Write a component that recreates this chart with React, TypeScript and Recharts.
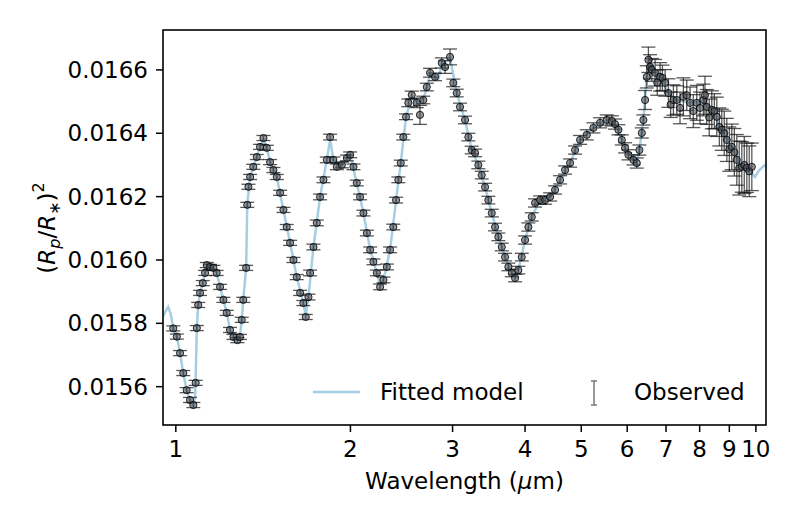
import React from 'react';
import { ComposedChart, Line, Scatter, ErrorBar, XAxis, YAxis } from 'recharts';

// observed transmission spectrum: wavelength (um), (Rp/R*)^2, 1-sigma error
const obsWavelength = [
  0.990, 1.004, 1.017, 1.030, 1.044, 1.058, 1.072, 1.082, 1.087, 1.093,
  1.101, 1.113, 1.123, 1.131, 1.146, 1.161, 1.176, 1.192, 1.208, 1.224,
  1.240, 1.257, 1.277, 1.290, 1.299, 1.307, 1.322, 1.328, 1.334, 1.343,
  1.360, 1.379, 1.397, 1.416, 1.435, 1.454, 1.473, 1.493, 1.513, 1.533,
  1.553, 1.574, 1.595, 1.616, 1.638, 1.659, 1.675, 1.693, 1.704, 1.727,
  1.750, 1.773, 1.797, 1.821, 1.845, 1.869, 1.895, 1.933, 1.972, 1.998,
  2.024, 2.051, 2.078, 2.106, 2.135, 2.163, 2.191, 2.221, 2.250, 2.280,
  2.311, 2.341, 2.371, 2.397, 2.419, 2.442, 2.467, 2.494, 2.517, 2.551,
  2.602, 2.636, 2.671, 2.708, 2.743, 2.798, 2.874, 2.912, 2.970, 3.009,
  3.050, 3.090, 3.152, 3.194, 3.237, 3.280, 3.323, 3.368, 3.413, 3.458,
  3.505, 3.551, 3.598, 3.647, 3.695, 3.744, 3.795, 3.845, 3.895, 3.948,
  4.000, 4.053, 4.108, 4.162, 4.246, 4.331, 4.418, 4.506, 4.597, 4.689,
  4.783, 4.879, 4.977, 5.111, 5.247, 5.388, 5.533, 5.644, 5.718, 5.794,
  5.873, 5.950, 6.029, 6.150, 6.233, 6.298, 6.358, 6.398, 6.442, 6.486,
  6.527, 6.570, 6.616, 6.703, 6.760, 6.837, 6.900, 6.975, 7.067, 7.130,
  7.208, 7.306, 7.400, 7.499, 7.600, 7.701, 7.800, 7.909, 8.010, 8.119,
  8.170, 8.229, 8.310, 8.394, 8.480, 8.563, 8.650, 8.734, 8.820, 8.910,
  9.000, 9.088, 9.180, 9.271, 9.360, 9.457, 9.550, 9.647, 9.740, 9.840,
];

const obsDepth = [
  0.015784, 0.015758, 0.015706, 0.015643, 0.015589, 0.015558, 0.015542, 0.015612, 0.015785, 0.015858,
  0.015896, 0.015927, 0.015959, 0.015984, 0.015978, 0.015975, 0.015959, 0.015915, 0.015874, 0.015833,
  0.015779, 0.015757, 0.015747, 0.015757, 0.015811, 0.015874, 0.015975, 0.016174, 0.016231, 0.016262,
  0.016294, 0.016325, 0.016357, 0.016385, 0.016354, 0.016309, 0.016284, 0.016262, 0.016212, 0.016158,
  0.016104, 0.016054, 0.016000, 0.015946, 0.015896, 0.015864, 0.015820, 0.015883, 0.015959, 0.016041,
  0.016117, 0.016199, 0.016253, 0.016316, 0.016388, 0.016316, 0.016294, 0.016300, 0.016322, 0.016332,
  0.016294, 0.016243, 0.016199, 0.016148, 0.016085, 0.016032, 0.015994, 0.015959, 0.015915, 0.015937,
  0.015978, 0.016032, 0.016104, 0.016189, 0.016253, 0.016306, 0.016388, 0.016452, 0.016496, 0.016521,
  0.016496, 0.016458, 0.016505, 0.016546, 0.016591, 0.016578, 0.016622, 0.016609, 0.016641, 0.016559,
  0.016527, 0.016483, 0.016442, 0.016388, 0.016347, 0.016338, 0.016300, 0.016268, 0.016230, 0.016189,
  0.016148, 0.016104, 0.016073, 0.016041, 0.016009, 0.015978, 0.015959, 0.015943, 0.015968, 0.016009,
  0.016063, 0.016104, 0.016136, 0.016180, 0.016189, 0.016189, 0.016199, 0.016221, 0.016253, 0.016284,
  0.016306, 0.016347, 0.016379, 0.016395, 0.016417, 0.016433, 0.016442, 0.016439, 0.016429, 0.016411,
  0.016379, 0.016354, 0.016332, 0.016316, 0.016306, 0.016347, 0.016401, 0.016442, 0.016505, 0.016578,
  0.016632, 0.016610, 0.016600, 0.016591, 0.016560, 0.016578, 0.016575, 0.016559, 0.016527, 0.016490,
  0.016505, 0.016505, 0.016480, 0.016515, 0.016520, 0.016496, 0.016470, 0.016496, 0.016480, 0.016505,
  0.016520, 0.016483, 0.016450, 0.016474, 0.016470, 0.016452, 0.016420, 0.016411, 0.016400, 0.016379,
  0.016350, 0.016357, 0.016340, 0.016316, 0.016290, 0.016294, 0.016300, 0.016291, 0.016280, 0.016294,
];

const obsError = [
  0.000008, 0.000008, 0.000008, 0.000008, 0.000008, 0.000008, 0.000008, 0.000008, 0.000008, 0.000008,
  0.000008, 0.000008, 0.000008, 0.000008, 0.000008, 0.000008, 0.000008, 0.000008, 0.000008, 0.000008,
  0.000008, 0.000008, 0.000008, 0.000008, 0.000008, 0.000008, 0.000008, 0.000008, 0.000008, 0.000008,
  0.000008, 0.000008, 0.000008, 0.000008, 0.000008, 0.000008, 0.000008, 0.000008, 0.000008, 0.000008,
  0.000008, 0.000008, 0.000008, 0.000008, 0.000008, 0.000008, 0.000008, 0.000009, 0.000009, 0.000009,
  0.000009, 0.000009, 0.000009, 0.000009, 0.000009, 0.000009, 0.000009, 0.000009, 0.000009, 0.000009,
  0.000009, 0.000009, 0.000009, 0.000009, 0.000009, 0.000009, 0.000009, 0.000009, 0.000009, 0.000009,
  0.000009, 0.000009, 0.000009, 0.000009, 0.000009, 0.000009, 0.000009, 0.000009, 0.000012, 0.000012,
  0.000015, 0.000030, 0.000012, 0.000012, 0.000014, 0.000012, 0.000016, 0.000020, 0.000025, 0.000012,
  0.000012, 0.000012, 0.000012, 0.000012, 0.000012, 0.000012, 0.000012, 0.000012, 0.000012, 0.000012,
  0.000012, 0.000012, 0.000012, 0.000012, 0.000012, 0.000012, 0.000012, 0.000012, 0.000012, 0.000012,
  0.000013, 0.000013, 0.000013, 0.000013, 0.000013, 0.000013, 0.000013, 0.000013, 0.000013, 0.000013,
  0.000013, 0.000013, 0.000014, 0.000016, 0.000016, 0.000016, 0.000016, 0.000016, 0.000016, 0.000016,
  0.000016, 0.000016, 0.000016, 0.000016, 0.000016, 0.000016, 0.000016, 0.000016, 0.000030, 0.000035,
  0.000040, 0.000038, 0.000036, 0.000042, 0.000040, 0.000045, 0.000040, 0.000042, 0.000045, 0.000040,
  0.000048, 0.000045, 0.000050, 0.000060, 0.000048, 0.000050, 0.000052, 0.000055, 0.000050, 0.000050,
  0.000060, 0.000055, 0.000058, 0.000060, 0.000055, 0.000062, 0.000060, 0.000065, 0.000070, 0.000068,
  0.000070, 0.000072, 0.000075, 0.000080, 0.000085, 0.000080, 0.000090, 0.000078, 0.000080, 0.000075,
];

// best-fit model spectrum
const modelWavelength = [
  0.950, 0.960, 0.970, 0.980, 0.990, 1.004, 1.017, 1.030, 1.044, 1.058,
  1.072, 1.080, 1.087, 1.093, 1.101, 1.113, 1.123, 1.131, 1.146, 1.161,
  1.176, 1.192, 1.208, 1.224, 1.240, 1.257, 1.277, 1.290, 1.299, 1.307,
  1.322, 1.328, 1.343, 1.360, 1.379, 1.397, 1.416, 1.435, 1.454, 1.493,
  1.533, 1.574, 1.616, 1.659, 1.675, 1.693, 1.727, 1.773, 1.821, 1.845,
  1.869, 1.933, 1.998, 2.051, 2.106, 2.163, 2.221, 2.250, 2.280, 2.341,
  2.397, 2.442, 2.494, 2.551, 2.602, 2.671, 2.743, 2.798, 2.835, 2.874,
  2.970, 3.050, 3.152, 3.237, 3.323, 3.413, 3.505, 3.598, 3.695, 3.795,
  3.845, 3.895, 4.000, 4.108, 4.246, 4.418, 4.597, 4.783, 4.977, 5.247,
  5.533, 5.644, 5.794, 5.950, 6.150, 6.233, 6.298, 6.398, 6.486, 6.527,
  6.616, 6.837, 7.067, 7.306, 7.701, 8.119, 8.394, 8.734, 9.088, 9.457,
  9.840, 9.968, 10.100, 10.250, 10.410,
];

const modelDepth = [
  0.015820, 0.015838, 0.015852, 0.015830, 0.015784, 0.015758, 0.015706, 0.015643, 0.015589, 0.015558,
  0.015542, 0.015570, 0.015785, 0.015858, 0.015896, 0.015927, 0.015959, 0.015980, 0.015978, 0.015975,
  0.015959, 0.015915, 0.015874, 0.015833, 0.015779, 0.015757, 0.015750, 0.015757, 0.015811, 0.015874,
  0.015975, 0.016174, 0.016262, 0.016294, 0.016325, 0.016357, 0.016380, 0.016354, 0.016309, 0.016262,
  0.016158, 0.016054, 0.015946, 0.015864, 0.015825, 0.015883, 0.016041, 0.016199, 0.016316, 0.016380,
  0.016316, 0.016300, 0.016330, 0.016243, 0.016148, 0.016032, 0.015959, 0.015920, 0.015937, 0.016032,
  0.016189, 0.016306, 0.016452, 0.016515, 0.016496, 0.016505, 0.016585, 0.016578, 0.016572, 0.016618,
  0.016638, 0.016527, 0.016442, 0.016347, 0.016300, 0.016230, 0.016148, 0.016073, 0.016009, 0.015959,
  0.015945, 0.015968, 0.016063, 0.016136, 0.016189, 0.016199, 0.016253, 0.016306, 0.016379, 0.016417,
  0.016442, 0.016439, 0.016411, 0.016354, 0.016316, 0.016306, 0.016347, 0.016442, 0.016578, 0.016620,
  0.016600, 0.016578, 0.016527, 0.016505, 0.016496, 0.016500, 0.016474, 0.016411, 0.016357, 0.016294,
  0.016275, 0.016262, 0.016280, 0.016292, 0.016302,
];

const xTicks = [1, 2, 3, 4, 5, 6, 7, 8, 9, 10];
const yTicks = [0.0156, 0.0158, 0.016, 0.0162, 0.0164, 0.0166];

const observed = obsWavelength.map((wl, i) => ({ wl, depth: obsDepth[i], err: obsError[i] }));
const model = modelWavelength.map((wl, i) => ({ wl, depth: modelDepth[i] }));

const FONT = '"DejaVu Sans", sans-serif';
const FS = 23;
const MODEL_COLOR = '#a6cee3';
const W = 795;
const H = 525;
// plot frame
const L = 163, R = 766, T = 30, B = 425;

const tickStyle = { fill: '#000', fontSize: FS, fontFamily: FONT };

function ObsDot(p: any) {
  if (p.cx == null || p.cy == null) return null;
  return (
    <circle cx={p.cx} cy={p.cy} r={3.6} fill="#4a5058" fillOpacity={0.6}
      stroke="#000" strokeOpacity={0.8} strokeWidth={1} />
  );
}

export default function App() {
  return (
    <div style={{ position: 'absolute', left: 0, top: 0, width: W, height: H, background: '#fff' }}>
      <ComposedChart width={W} height={H} margin={{ top: T, right: W - R, bottom: 0, left: 0 }}>
        <XAxis
          dataKey="wl"
          type="number"
          scale="log"
          domain={[0.9504, 10.41]}
          allowDataOverflow
          ticks={xTicks}
          interval={0}
          height={H - B}
          axisLine={false}
          tickLine={{ stroke: '#000', strokeWidth: 1.5 }}
          tickSize={7}
          tickMargin={9}
          tick={tickStyle}
        />
        <YAxis
          type="number"
          domain={[0.015479, 0.016726]}
          allowDataOverflow
          ticks={yTicks}
          interval={0}
          width={L}
          axisLine={false}
          tickLine={{ stroke: '#000', strokeWidth: 1.5 }}
          tickSize={7}
          tickMargin={8}
          tick={tickStyle}
          tickFormatter={(v: number) => v.toFixed(4)}
        />
        <Line
          data={model}
          dataKey="depth"
          type="linear"
          stroke={MODEL_COLOR}
          strokeWidth={2.5}
          dot={false}
          activeDot={false}
          isAnimationActive={false}
        />
        <Scatter data={observed} dataKey="depth" shape={ObsDot} isAnimationActive={false}>
          <ErrorBar dataKey="err" direction="y" width={7} stroke="#111" strokeOpacity={0.7} strokeWidth={1.3} />
        </Scatter>
      </ComposedChart>

      <svg width={W} height={H} style={{ position: 'absolute', left: 0, top: 0, pointerEvents: 'none' }}
        fontFamily={FONT}>
        <rect x={L} y={T} width={R - L} height={B - T} fill="none" stroke="#000" strokeWidth={1.6} />

        {/* legend */}
        <line x1={313} x2={360} y1={392} y2={392} stroke={MODEL_COLOR} strokeWidth={2.5} />
        <text x={380} y={400} fontSize={FS}>Fitted model</text>
        <g stroke="#777" strokeWidth={1.5}>
          <line x1={594} x2={594} y1={381} y2={405} />
          <line x1={591} x2={597} y1={381} y2={381} />
          <line x1={591} x2={597} y1={405} y2={405} />
        </g>
        <text x={634} y={400} fontSize={FS}>Observed</text>

        {/* axis titles */}
        <text x={(L + R) / 2} y={489} fontSize={FS} textAnchor="middle">
          Wavelength (<tspan fontStyle="italic">μ</tspan>m)
        </text>
        <text transform="translate(55,228) rotate(-90)" fontSize={FS} textAnchor="middle">
          (<tspan fontStyle="italic">R</tspan>
          <tspan fontStyle="italic" fontSize={16} dy={5}>p</tspan>
          <tspan dy={-5}>/</tspan>
          <tspan fontStyle="italic">R</tspan>
          <tspan fontSize={16} dy={5}>∗</tspan>
          <tspan dy={-5}>)</tspan>
          <tspan fontSize={16} dy={-11}>2</tspan>
        </text>
      </svg>
    </div>
  );
}
